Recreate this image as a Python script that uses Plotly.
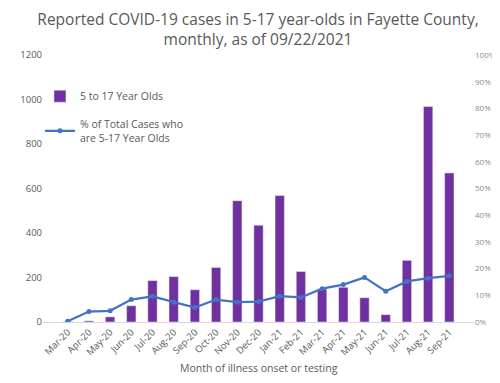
import plotly.graph_objects as go

months = ["Mar-20", "Apr-20", "May-20", "Jun-20", "Jul-20", "Aug-20", "Sep-20", "Oct-20",
          "Nov-20", "Dec-20", "Jan-21", "Feb-21", "Mar-21", "Apr-21", "May-21", "Jun-21",
          "Jul-21", "Aug-21", "Sep-21"]
cases = [2, 5, 23, 73, 186, 204, 145, 245, 545, 435, 568, 227, 148, 156, 109, 33, 277, 968, 670]
pct = [0.3, 3.9, 4.2, 8.4, 9.6, 7.4, 5.4, 8.4, 7.4, 7.6, 9.7, 9.2, 12.5, 14.0, 16.7, 11.5,
       15.2, 16.4, 17.3]

left_ticks = [0, 200, 400, 600, 800, 1000, 1200]
right_ticks = list(range(0, 101, 10))

fig = go.Figure()
fig.add_trace(go.Bar(x=months, y=cases, name="5 to 17 Year Olds",
                     marker_color="#7030A0", yaxis="y", legendgroup="a"))
fig.add_trace(go.Scatter(x=months, y=pct, name="% of Total Cases who<br>are 5-17 Year Olds",
                         mode="lines+markers", yaxis="y2", legendgroup="b",
                         line=dict(color="#4472C4", width=2.25),
                         marker=dict(color="#4472C4", size=5)))

fig.update_layout(
    width=500, height=383,
    margin=dict(l=35, r=27, t=47, b=69),
    paper_bgcolor="white", plot_bgcolor="white",
    font=dict(family="Open Sans, Liberation Sans, sans-serif", color="#595959"),
    title=dict(text="Reported COVID-19 cases in 5-17 year-olds in Fayette County,<br>monthly, as of 09/22/2021",
               x=0.5, xanchor="center", yref="container", y=0.955, yanchor="top",
               font=dict(size=15.5, color="#595959")),
    bargap=0.56,
    showlegend=True,
    legend=dict(x=-0.007, y=0.9, xanchor="left", yanchor="top",
                bgcolor="rgba(0,0,0,0)", font=dict(size=10.5, color="#595959"),
                traceorder="grouped", tracegroupgap=10, itemwidth=30),
    xaxis=dict(type="category", tickangle=-45, tickfont=dict(size=9.5, color="#595959"),
               showgrid=False, showline=True, linecolor="#D9D9D9", linewidth=1,
               ticks=""),
    yaxis=dict(range=[0, 1200], tickvals=left_ticks, showgrid=False, zeroline=False,
               tickfont=dict(size=9.5, color="#595959"), ticks="", showline=False),
    yaxis2=dict(range=[0, 100], tickvals=right_ticks,
                ticktext=[f"{v}%" for v in right_ticks], overlaying="y", side="right",
                showgrid=False, zeroline=False, tickfont=dict(size=8, color="#8C8C8C"),
                ticks="", showline=False),
    annotations=[dict(text="Month of illness onset or testing", xref="paper", yref="paper",
                      x=0.5, y=-0.172, xanchor="center", yanchor="middle", showarrow=False,
                      font=dict(size=10.5, color="#595959"))],
)

fig.write_html("out.html")
